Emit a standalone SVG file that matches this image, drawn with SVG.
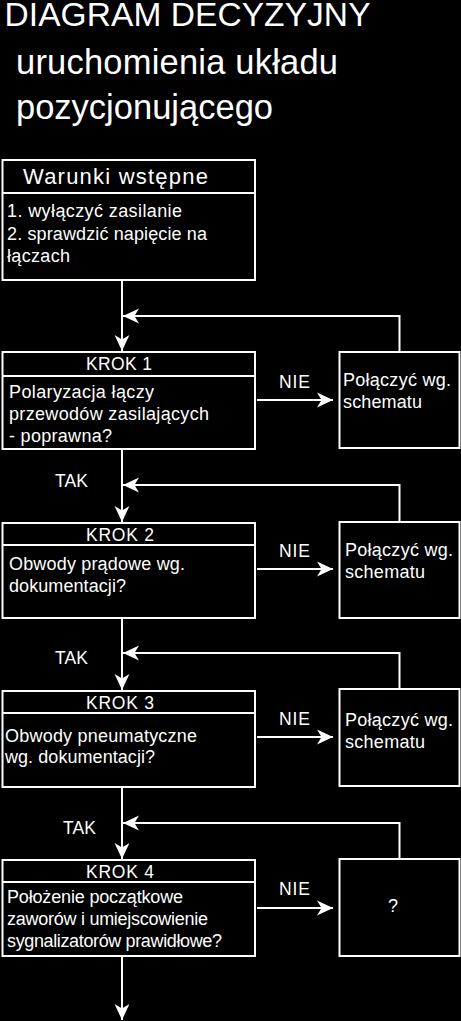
<svg xmlns="http://www.w3.org/2000/svg" width="461" height="1021" viewBox="0 0 461 1021">
<style>
text{font-family:"Liberation Sans",Arial,sans-serif;fill:#fff}
.t{font-size:33.5px}
.s{font-size:34.5px}
.b{font-size:18px}
.h{font-size:17.5px}
.box{fill:#000;stroke:#fff;stroke-width:2}
.ln{fill:none;stroke:#fff;stroke-width:2}
</style>
<defs>
<marker id="ah" markerUnits="userSpaceOnUse" markerWidth="20" markerHeight="16" viewBox="-15 -7 16 14" refX="0" refY="0" orient="auto">
<path d="M0,0 L-14,-6.5 L-10,0 L-14,6.5 Z" fill="#fff"/>
</marker>
</defs>
<rect width="461" height="1021" fill="#000"/>
<g id="title">
<text class="t" x="4.5" y="26" textLength="366">DIAGRAM DECYZYJNY</text>
<text class="s" x="16" y="74" textLength="322">uruchomienia układu</text>
<text class="s" x="16" y="119">pozycjonującego</text>
</g>
<g id="connectors">
<line class="ln" x1="122" y1="280" x2="122" y2="351" marker-end="url(#ah)"/>
<polyline class="ln" points="399.5,352 399.5,316 123,316" marker-end="url(#ah)"/>
<line class="ln" x1="257" y1="400" x2="333" y2="400" marker-end="url(#ah)"/>
<line class="ln" x1="122" y1="449" x2="122" y2="522" marker-end="url(#ah)"/>
<polyline class="ln" points="399.5,522 399.5,485 123,485" marker-end="url(#ah)"/>
<line class="ln" x1="257" y1="569" x2="333" y2="569" marker-end="url(#ah)"/>
<line class="ln" x1="122" y1="618" x2="122" y2="690" marker-end="url(#ah)"/>
<polyline class="ln" points="399.5,689 399.5,653 123,653" marker-end="url(#ah)"/>
<line class="ln" x1="257" y1="737" x2="333" y2="737" marker-end="url(#ah)"/>
<line class="ln" x1="122" y1="787" x2="122" y2="859" marker-end="url(#ah)"/>
<polyline class="ln" points="399.5,859 399.5,823 123,823" marker-end="url(#ah)"/>
<line class="ln" x1="257" y1="908" x2="333" y2="908" marker-end="url(#ah)"/>
<line class="ln" x1="122" y1="956" x2="122" y2="1020" marker-end="url(#ah)"/>
<text class="h" x="279" y="388" textLength="31">NIE</text>
<text class="h" x="279" y="557" textLength="31">NIE</text>
<text class="h" x="279" y="725" textLength="31">NIE</text>
<text class="h" x="279" y="895" textLength="31">NIE</text>
<text class="h" x="55" y="487" textLength="33">TAK</text>
<text class="h" x="55" y="664" textLength="33">TAK</text>
<text class="h" x="63" y="834" textLength="33">TAK</text>
</g>
<g id="warunki">
<rect class="box" x="2.5" y="160" width="252.5" height="120"/>
<line class="ln" x1="2.5" y1="193" x2="255" y2="193"/>
<text x="23" y="184" style="font-size:22px" textLength="185">Warunki wstępne</text>
<text class="b" x="7" y="217" textLength="175">1. wyłączyć zasilanie</text>
<text class="b" x="7" y="240" textLength="200">2. sprawdzić napięcie na</text>
<text class="b" x="7" y="262" textLength="63">łączach</text>
</g>
<g id="krok1">
<rect class="box" x="2.5" y="352" width="252.5" height="97"/>
<line class="ln" x1="2.5" y1="376" x2="255" y2="376"/>
<text class="h" x="86" y="370" textLength="66">KROK 1</text>
<text class="b" x="9" y="398" textLength="145">Polaryzacja łączy</text>
<text class="b" x="9" y="420" textLength="200">przewodów zasilających</text>
<text class="b" x="9" y="442" textLength="103">- poprawna?</text>
</g>
<g id="fix1">
<rect class="box" x="339.5" y="352" width="120" height="96"/>
<text class="b" x="343" y="386" textLength="108">Połączyć wg.</text>
<text class="b" x="343" y="408" textLength="79">schematu</text>
</g>
<g id="krok2">
<rect class="box" x="2.5" y="523" width="252.5" height="95"/>
<line class="ln" x1="2.5" y1="545" x2="255" y2="545"/>
<text class="h" x="86" y="541" textLength="68">KROK 2</text>
<text class="b" x="9" y="570" textLength="176">Obwody prądowe wg.</text>
<text class="b" x="9" y="592" textLength="117">dokumentacji?</text>
</g>
<g id="fix2">
<rect class="box" x="339.5" y="522" width="120" height="96"/>
<text class="b" x="345" y="556" textLength="108">Połączyć wg.</text>
<text class="b" x="345" y="578" textLength="80">schematu</text>
</g>
<g id="krok3">
<rect class="box" x="2.5" y="691" width="252.5" height="96"/>
<line class="ln" x1="2.5" y1="713" x2="255" y2="713"/>
<text class="h" x="86" y="709" textLength="68">KROK 3</text>
<text class="b" x="5" y="742" textLength="192">Obwody pneumatyczne</text>
<text class="b" x="5" y="763" textLength="150">wg. dokumentacji?</text>
</g>
<g id="fix3">
<rect class="box" x="339.5" y="689" width="120" height="97"/>
<text class="b" x="345" y="726" textLength="108">Połączyć wg.</text>
<text class="b" x="345" y="748" textLength="80">schematu</text>
</g>
<g id="krok4">
<rect class="box" x="2.5" y="860" width="252.5" height="96"/>
<line class="ln" x1="2.5" y1="882" x2="255" y2="882"/>
<text class="h" x="86" y="878" textLength="68">KROK 4</text>
<text class="b" x="7" y="903" textLength="176">Położenie początkowe</text>
<text class="b" x="7" y="925" textLength="201">zaworów i umiejscowienie</text>
<text class="b" x="7" y="947" textLength="215">sygnalizatorów prawidłowe?</text>
</g>
<g id="fix4">
<rect class="box" x="339.5" y="859" width="120" height="97"/>
<text class="b" x="393" y="912" text-anchor="middle">?</text>
</g>
</svg>
